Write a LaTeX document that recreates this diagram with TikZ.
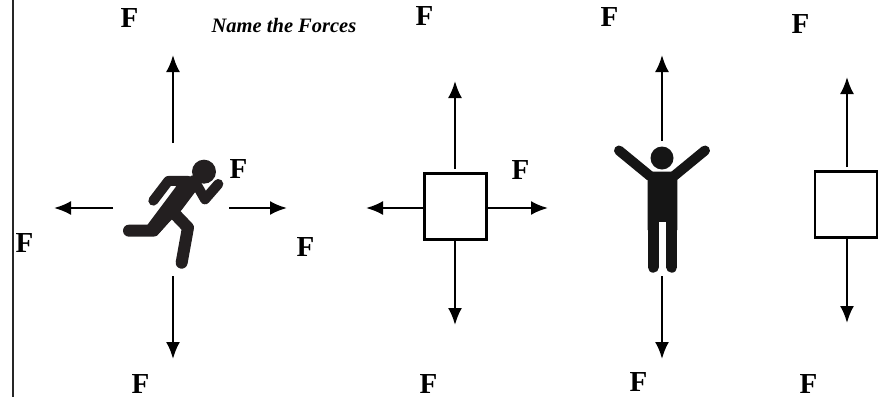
\documentclass[tikz,border=0pt]{standalone}
\usepackage{fontspec}
\setmainfont{Liberation Serif}
\usetikzlibrary{arrows.meta}
\definecolor{figA}{HTML}{231F20}
\definecolor{figB}{HTML}{151515}
\tikzset{
  x=1pt,y=-1pt,
  force/.style={draw=black,line width=2.3pt,-{Latex[length=17pt,width=14pt]}},
  flabel/.style={inner sep=0pt,text=black,font=\fontsize{29}{29}\selectfont\bfseries},
  titlelabel/.style={inner sep=0pt,font=\fontsize{20.5}{20.5}\selectfont\bfseries\itshape},
  block/.style={draw=black,line width=2.4pt,fill=white,minimum width=62pt,minimum height=66pt,inner sep=0pt},
  limb/.style={line width=#1,line cap=round,line join=round},
}
\begin{document}
\begin{tikzpicture}
\useasboundingbox (0,0) rectangle (881,397);
\fill[white] (0,0) rectangle (881,397);
\coordinate (ltop) at (13,0); \coordinate (lbot) at (13,397);
\draw[line width=1.7pt,black!85] (ltop) -- (lbot);
% labels
\node[flabel] (f1) at (129.5,18.5) {F};
\node[flabel] (f2) at (424.5,16.5) {F};
\node[flabel] (f3) at (609.5,17.5) {F};
\node[flabel] (f4) at (800.5,24) {F};
\node[flabel] (f5) at (238.5,169) {F};
\node[flabel] (f6) at (520.5,170) {F};
\node[flabel] (f7) at (24.5,243) {F};
\node[flabel] (f8) at (305.5,247) {F};
\node[flabel] (f9) at (140.5,384) {F};
\node[flabel] (f10) at (428.5,384) {F};
\node[flabel] (f11) at (638.5,382) {F};
\node[flabel] (f12) at (808.5,384) {F};
\node[titlelabel] (title) at (284,25) {Name the Forces};
% runner
\begin{scope}[shift={(0,130)},x=0.3333pt,y=-0.3333pt,figA]
\fill (612,125) circle (36);
\draw[limb=10pt] (460,212) -- (505,153) -- (565,153);
\draw[limb=10pt] (582,150) -- (615,208) -- (655,162);
\fill (525,139) -- (575,139) -- (596,172) -- (545,240) -- (510,274) -- (470,318) -- (442,285) -- (528,170) -- cycle;
\draw[limb=12pt] (495,262) -- (460,302) -- (387,302);
\draw[limb=12pt] (518,245) -- (564,293) -- (545,398);
\end{scope}
% person
\begin{scope}[figB]
\fill (662,158) circle (11.5);
\fill (651,171.7) -- (673,171.7) -- (677.3,180) -- (677.3,230) -- (647.7,230) -- (647.7,180) -- cycle;
\draw[limb=10pt] (650,176) -- (619,150.5);
\draw[limb=10pt] (674,176) -- (705,150.5);
\draw[limb=11pt] (653.2,225) -- (653.2,267.2);
\draw[limb=11pt] (671.8,225) -- (671.8,267.2);
\fill[white] (658.7,222) rectangle (666.3,240);
\end{scope}
% boxes
\node[block] (b1) at (455.5,206.5) {};
\node[block] (b2) at (846,204.5) {};
% arrow ends
\coordinate (a1s) at (173,143); \coordinate (a1e) at (173,55);
\coordinate (a2s) at (113,208); \coordinate (a2e) at (54,208);
\coordinate (a3s) at (229,208); \coordinate (a3e) at (287,208);
\coordinate (a4s) at (173,276); \coordinate (a4e) at (173,359);
\coordinate (a5s) at (455,169); \coordinate (a5e) at (455,81);
\coordinate (a6e) at (366,208);
\coordinate (a7e) at (548,208);
\coordinate (a8e) at (455,325);
\coordinate (a9s) at (662,141); \coordinate (a9e) at (662,55);
\coordinate (a10s) at (662,276); \coordinate (a10e) at (662,359);
\coordinate (a11s) at (847,167); \coordinate (a11e) at (847,77);
\coordinate (a12e) at (847,323);
\draw[force] (a1s) -- (a1e);
\draw[force] (a2s) -- (a2e);
\draw[force] (a3s) -- (a3e);
\draw[force] (a4s) -- (a4e);
\draw[force] (a5s) -- (a5e);
\draw[force] (b1.west |- a6e) -- (a6e);
\draw[force] (b1.east |- a7e) -- (a7e);
\draw[force] (b1.south -| a8e) -- (a8e);
\draw[force] (a9s) -- (a9e);
\draw[force] (a10s) -- (a10e);
\draw[force] (a11s) -- (a11e);
\draw[force] (b2.south -| a12e) -- (a12e);
\end{tikzpicture}
\end{document}
